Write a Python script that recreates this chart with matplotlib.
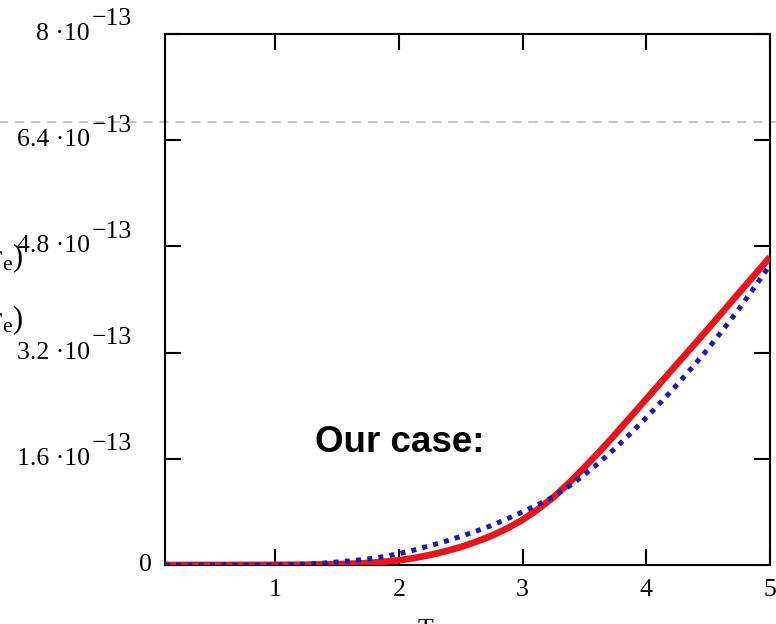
import matplotlib.pyplot as plt
from matplotlib import transforms

# temperature grid and the two curves (values in units of 1e-13)
T_red = [0.11, 0.5, 1.0, 1.25, 1.5, 1.625, 1.75, 1.875, 2.0, 2.125, 2.25,
         2.375, 2.5, 2.625, 2.75, 2.875, 3.0, 3.125, 3.25, 3.375, 3.5,
         3.625, 3.75, 3.875, 4.0, 4.125, 4.25, 4.375, 4.5, 4.625, 4.75,
         4.875, 5.0]
F_red = [0.0, 0.0, 0.001, 0.004, 0.012, 0.02, 0.03, 0.047, 0.07, 0.105, 0.15,
         0.205, 0.27, 0.35, 0.44, 0.55, 0.68, 0.84, 1.02, 1.235, 1.47,
         1.715, 1.97, 2.235, 2.50, 2.765, 3.03, 3.295, 3.56, 3.83, 4.10,
         4.37, 4.64]
T_blue = [0.11, 0.5, 1.0, 1.125, 1.25, 1.375, 1.5, 1.625, 1.75, 1.875, 2.0,
          2.125, 2.25, 2.375, 2.5, 2.625, 2.75, 2.875, 3.0, 3.125, 3.25,
          3.375, 3.5, 3.625, 3.75, 3.875, 4.0, 4.125, 4.25, 4.375, 4.5,
          4.625, 4.75, 4.875, 5.0]
F_blue = [0.0, 0.001, 0.004, 0.007, 0.012, 0.025, 0.045, 0.065, 0.09, 0.125,
          0.17, 0.225, 0.29, 0.355, 0.43, 0.51, 0.595, 0.695, 0.80, 0.91,
          1.03, 1.185, 1.36, 1.55, 1.76, 1.985, 2.22, 2.465, 2.72, 2.985,
          3.26, 3.555, 3.86, 4.185, 4.52]
scale = 1e-13

y_ticks = [0, 1.6e-13, 3.2e-13, 4.8e-13, 6.4e-13, 8e-13]
y_bases = ["0", "1.6 \u00b710", "3.2 \u00b710", "4.8 \u00b710", "6.4 \u00b710", "8 \u00b710"]
y_exp = "\u221213"
x_ticks = [1, 2, 3, 4, 5]
x_labels = ["1", "2", "3", "4", "5"]
ref_level = 6.67e-13

plt.rcParams["font.family"] = ["Liberation Serif", "DejaVu Serif"]
plt.rcParams["mathtext.fontset"] = "stix"

fig = plt.figure(figsize=(7.76, 6.24), dpi=100)
ax = fig.add_axes([0.2126, 0.0946, 0.7797, 0.8510])

ax.plot(T_red, [v * scale for v in F_red], color="#e8141c", lw=4.8,
        solid_capstyle="butt", solid_joinstyle="round", zorder=3)
ax.plot(T_blue, [v * scale for v in F_blue], color="#1c1cb4", lw=3.6,
        ls=(0, (1, 1.25)), zorder=4)

ax.set_xlim(0.11, 5)
ax.set_ylim(0, 8e-13)

for s in ax.spines.values():
    s.set_linewidth(1.5)
    s.set_color("black")

ax.set_xticks(x_ticks, labels=x_labels)
ax.set_yticks(y_ticks, labels=[""] * len(y_ticks))
ax.tick_params(direction="in", length=11.5, width=1.5, top=True, right=True,
               labelsize=18.5, pad=10, color="black")

# y tick labels drawn as base + raised exponent
blend = transforms.blended_transform_factory(ax.transAxes, ax.transData)
exp_tr = transforms.offset_copy(blend, fig=fig, y=10.5, units="points")
for v, base in zip(y_ticks, y_bases):
    if v == 0:
        ax.text(-0.021, v, base, transform=blend, ha="right", va="center",
                fontsize=18.5)
        continue
    ax.text(-0.124, v, base, transform=blend, ha="right", va="center",
            fontsize=18.5)
    ax.text(-0.121, v, y_exp, transform=exp_tr, ha="left", va="center",
            fontsize=18.5)

# reference level across the whole figure
ax.axhline(ref_level, xmin=-0.3, xmax=1.1, color="#b4b4b4", lw=1.1,
           ls=(0, (6, 4.5)), clip_on=False, zorder=1)

ax.text(315, 1.7e-13, "Our case:", transform=transforms.blended_transform_factory(
    fig.dpi_scale_trans + transforms.Affine2D().scale(1 / fig.dpi), ax.transData),
    fontsize=26.5, fontweight="bold", family="Liberation Sans", ha="left",
    va="baseline")

# axis labels, partly outside the canvas
fig.text(23 / 776, 1 - 258 / 624, r"$\mathregular{(T,r_e)}$", ha="right",
         va="center", fontsize=22)
fig.text(23 / 776, 1 - 320 / 624, r"$\mathregular{(T,r_e)}$", ha="right",
         va="center", fontsize=22)
fig.text(425 / 776, 1 - 619 / 624, "T", ha="center", va="top", fontsize=18.5)

fig.savefig("out.png", dpi=100)
